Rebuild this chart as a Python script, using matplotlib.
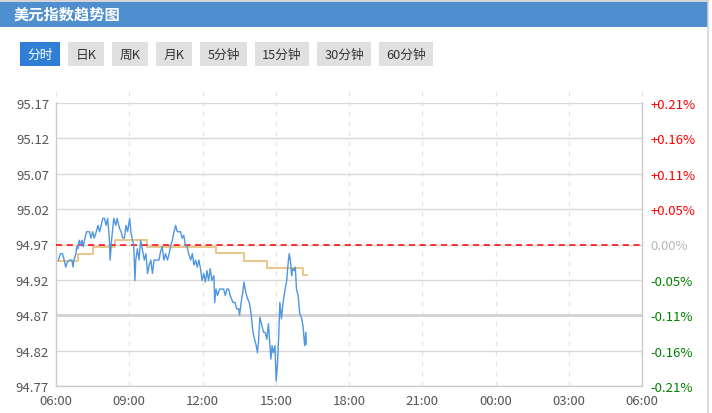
import matplotlib
matplotlib.use("Agg")
import matplotlib.pyplot as plt
from matplotlib.patches import Rectangle

plt.rcParams['font.family'] = ['Noto Sans CJK SC', 'DejaVu Sans']

# chart data (minutes after 06:00, price)
title = "美元指数趋势图"
tabs = ["分时", "日K", "周K", "月K", "5分钟", "15分钟", "30分钟", "60分钟"]

base_price = 94.97
price_ticks = [94.77, 94.82, 94.87, 94.92, 94.97, 95.02, 95.07, 95.12, 95.17]
price_labels = ["94.77", "94.82", "94.87", "94.92", "94.97", "95.02", "95.07", "95.12", "95.17"]
pct_labels = ["-0.21%", "-0.16%", "-0.11%", "-0.05%", "0.00%", "+0.05%", "+0.11%", "+0.16%", "+0.21%"]
time_ticks = [0, 180, 360, 540, 720, 900, 1080, 1260, 1440]
time_labels = ["06:00", "09:00", "12:00", "15:00", "18:00", "21:00", "00:00", "03:00", "06:00"]

minutes = [6, 11, 16, 20, 24, 28, 33, 39, 42, 44, 49, 51, 54, 57, 60, 64, 67, 70, 75, 82,
           86, 90, 94, 99, 103, 107, 111, 115, 119, 123, 127, 131, 133, 137, 142, 147, 150, 156, 160, 164,
           168, 172, 176, 181, 184, 188, 191, 194, 196, 200, 204, 208, 213, 217, 221, 225, 229, 233, 237, 241,
           245, 249, 253, 257, 261, 265, 269, 274, 278, 282, 286, 290, 294, 298, 302, 306, 310, 314, 318, 322,
           326, 331, 335, 339, 343, 347, 351, 355, 359, 363, 367, 371, 375, 379, 383, 388, 390, 393, 397, 402,
           408, 412, 416, 420, 424, 428, 435, 440, 444, 449, 451, 455, 459, 462, 466, 471, 475, 479, 484, 488,
           492, 495, 498, 501, 506, 510, 514, 518, 522, 524, 528, 531, 534, 538, 541, 544, 547, 550, 554, 558,
           563, 567, 570, 573, 576, 579, 581, 585, 588, 591, 595, 599, 603, 607, 611, 614, 615]
prices = [94.948, 94.957, 94.957, 94.948, 94.938, 94.945, 94.948, 94.948, 94.938, 94.948,
          94.957, 94.967, 94.964, 94.976, 94.969, 94.976, 94.967, 94.976, 94.988, 94.988,
          94.979, 94.988, 94.979, 94.988, 94.997, 94.988, 94.997, 95.007, 95.007, 94.997,
          95.007, 94.979, 94.948, 94.979, 95.007, 94.997, 95.007, 94.993, 94.988, 94.979,
          94.979, 94.997, 94.988, 95.007, 94.988, 94.976, 94.969, 94.919, 94.948, 94.964,
          94.948, 94.976, 94.960, 94.948, 94.957, 94.929, 94.941, 94.948, 94.929, 94.948,
          94.948, 94.948, 94.948, 94.960, 94.967, 94.948, 94.957, 94.948, 94.957, 94.969,
          94.976, 94.988, 94.997, 94.988, 94.988, 94.988, 94.979, 94.983, 94.969, 94.967,
          94.957, 94.948, 94.957, 94.941, 94.948, 94.938, 94.948, 94.936, 94.919, 94.929,
          94.917, 94.933, 94.919, 94.936, 94.919, 94.926, 94.888, 94.907, 94.898, 94.907,
          94.907, 94.907, 94.898, 94.907, 94.907, 94.898, 94.888, 94.888, 94.879, 94.879,
          94.870, 94.888, 94.903, 94.917, 94.903, 94.893, 94.888, 94.874, 94.846, 94.836,
          94.827, 94.817, 94.836, 94.867, 94.855, 94.846, 94.846, 94.836, 94.858, 94.841,
          94.808, 94.827, 94.817, 94.827, 94.777, 94.798, 94.836, 94.888, 94.865, 94.888,
          94.907, 94.919, 94.941, 94.957, 94.948, 94.926, 94.936, 94.933, 94.938, 94.907,
          94.898, 94.872, 94.867, 94.855, 94.827, 94.846, 94.829]

avg_minutes = [3, 55, 92, 145, 223, 393, 462, 518, 608, 617]
avg_prices = [94.947, 94.957, 94.967, 94.977, 94.967, 94.958, 94.947, 94.937, 94.927, 94.927]

W, H = 712, 414
fig = plt.figure(figsize=(W / 100, H / 100), dpi=100)

# page decorations: header bar and tab buttons
bg = fig.add_axes([0, 0, 1, 1], zorder=0)
bg.set_xlim(0, W)
bg.set_ylim(H, 0)
bg.axis("off")
bg.add_patch(Rectangle((0, 0), 708, 2.5, color="#d4d4d4", lw=0))
bg.add_patch(Rectangle((0, 2.5), 708, 25, color="#4f8fd0", lw=0))
bg.plot([708, 708], [0, H], color="#d4d4d4", lw=1.2)
bg.text(14, 15, title, color="white", fontsize=11, fontweight="bold", va="center", ha="left")

tab_x = [20, 68, 112, 156, 200, 255, 317, 379]
tab_w = [40, 36, 36, 36, 47, 54, 54, 54]
for i, name in enumerate(tabs):
    sel = i == 0
    bg.add_patch(Rectangle((tab_x[i], 43), tab_w[i], 24, lw=0,
                           color="#2f7fd6" if sel else "#e0e0e0"))
    bg.text(tab_x[i] + tab_w[i] / 2, 55.5, name, fontsize=9.2, ha="center", va="center",
            color="white" if sel else "#333333")

# main chart
ax = fig.add_axes([56 / W, 1 - 387 / H, (642 - 56) / W, (387 - 104) / H], zorder=1)
ax.patch.set_alpha(0)
ax.set_xlim(0, 1440)
ax.set_ylim(price_ticks[0], price_ticks[-1])

for t in time_ticks:
    ax.axvline(t, ymin=0, ymax=1.043, color="#e6e6e6", lw=0.9, ls=(0, (4, 4)), clip_on=False, zorder=0)
for p in price_ticks:
    ax.axhline(p, color="#d8d8d8", lw=1, zorder=1)
ax.axhline(price_ticks[2], color="#d2d2d2", lw=2, zorder=1)
ax.axhline(base_price, color="#ff0000", lw=1.1, ls=(0, (4, 3)), zorder=3)

ax.step(avg_minutes, avg_prices, where="post", color="#e8c27e", lw=1.3, zorder=2)
ax.plot(minutes, prices, color="#5096e0", lw=1.0, zorder=4)

ax.spines["top"].set_visible(False)
for s in ["left", "right", "bottom"]:
    ax.spines[s].set_color("#cccccc")
    ax.spines[s].set_linewidth(1)

ax.set_yticks(price_ticks)
ax.set_yticklabels(price_labels)
ax.set_xticks(time_ticks)
ax.set_xticklabels(time_labels)
ax.tick_params(axis="y", length=0, pad=5, labelsize=9.5, labelcolor="#555555")
ax.tick_params(axis="x", length=0, pad=6, labelsize=9.5, labelcolor="#555555")

ax2 = ax.twinx()
ax2.set_ylim(ax.get_ylim())
ax2.set_yticks(price_ticks)
ax2.set_yticklabels(pct_labels)
ax2.tick_params(axis="y", length=0, pad=6, labelsize=9.5)
for s in ax2.spines.values():
    s.set_visible(False)
for lab, txt in zip(ax2.get_yticklabels(), pct_labels):
    if txt.startswith("+"):
        lab.set_color("#ff0000")
    elif txt.startswith("-"):
        lab.set_color("#008000")
    else:
        lab.set_color("#b8b8b8")

fig.savefig("out.png", dpi=100)
